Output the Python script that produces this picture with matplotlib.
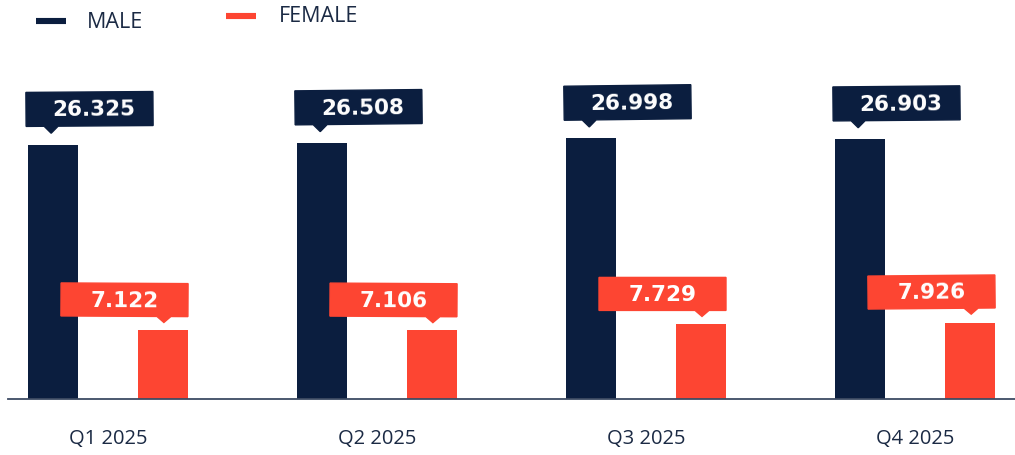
import numpy as np
import matplotlib.pyplot as plt
import matplotlib.transforms as mtransforms
from matplotlib.patches import Polygon
from matplotlib.lines import Line2D

quarters = ["Q1 2025", "Q2 2025", "Q3 2025", "Q4 2025"]
male = [26.325, 26.508, 26.998, 26.903]
female = [7.122, 7.106, 7.729, 7.926]

navy = "#0b1e3f"
red = "#fd4532"
txt = "#1b2a44"
font = "Open Sans"

W, H = 1015, 456
fig = plt.figure(figsize=(W / 100, H / 100), dpi=100)
ax = fig.add_axes([8 / W, 56 / H, 1007 / W, 400 / H])

x = np.arange(len(quarters))
bw = 50 / 269
off = 55 / 269
ax.bar(x - off, male, bw, color=navy, zorder=2)
ax.bar(x + off, female, bw, color=red, zorder=2)

ax.set_xlim(-100 / 269, 907 / 269)
ax.set_ylim(0, 400 / 9.65)
ax.set_yticks([])
ax.set_xticks(x)
ax.set_xticklabels(quarters, fontsize=14.5, color=txt, family=font)
ax.tick_params(axis="x", length=0, pad=21)
for s in ["top", "left", "right"]:
    ax.spines[s].set_visible(False)
ax.spines["bottom"].set_color("#3d4b63")
ax.spines["bottom"].set_linewidth(1.3)

fig.canvas.draw()
ident = mtransforms.IdentityTransform()


def callout(xc, val, color, kind, ang):
    # bar top corners in pixels (y up)
    left, top = ax.transData.transform((xc - bw / 2, val))
    right, _ = ax.transData.transform((xc + bw / 2, val))
    cx = (left + right) / 2
    if kind == "m":
        bx0 = left - 2
        bx1 = bx0 + 127
        by0 = top + 19
        by1 = by0 + 34
        px, ph, tdx = cx - 2, 7, 4
    else:
        bx1 = right
        bx0 = bx1 - 127
        by0 = top + 14
        by1 = by0 + 33
        px, ph, tdx = cx + 1, 6, 0
    pts = np.array([[bx0, by0], [px - 7, by0], [px, by0 - ph], [px + 7, by0],
                    [bx1, by0], [bx1, by1], [bx0, by1]])
    c = np.array([(bx0 + bx1) / 2, (by0 + by1) / 2])
    a = np.deg2rad(ang)
    rot = np.array([[np.cos(a), -np.sin(a)], [np.sin(a), np.cos(a)]])
    pts = (pts - c) @ rot.T + c
    fig.add_artist(Polygon(pts, closed=True, color=color, transform=ident, zorder=3))
    tc = c + rot @ np.array([tdx, 0])
    fig.text(tc[0], tc[1], f"{val:.3f}", transform=ident, ha="center", va="center",
             color="white", fontsize=15.5, fontweight="bold", family="DejaVu Sans",
             rotation=ang, zorder=4)


male_tilt = [0.4, 0.6, 0.7, 0.5]
female_tilt = [-0.3, -0.3, 0.0, 0.5]
for i in range(len(quarters)):
    callout(x[i] - off, male[i], navy, "m", male_tilt[i])
    callout(x[i] + off, female[i], red, "f", female_tilt[i])

# legend
fig.add_artist(Line2D([36 / W, 66 / W], [1 - 22 / H] * 2, color=navy, lw=4.4,
                      solid_capstyle="butt"))
fig.text(87 / W, 1 - 22 / H, "MALE", ha="left", va="center", fontsize=15.5,
         color=txt, family=font)
fig.add_artist(Line2D([226 / W, 256 / W], [1 - 17 / H] * 2, color=red, lw=4.4,
                      solid_capstyle="butt"))
fig.text(279 / W, 1 - 17 / H, "FEMALE", ha="left", va="center", fontsize=15.5,
         color=txt, family=font)

fig.savefig("out.png", dpi=100)
